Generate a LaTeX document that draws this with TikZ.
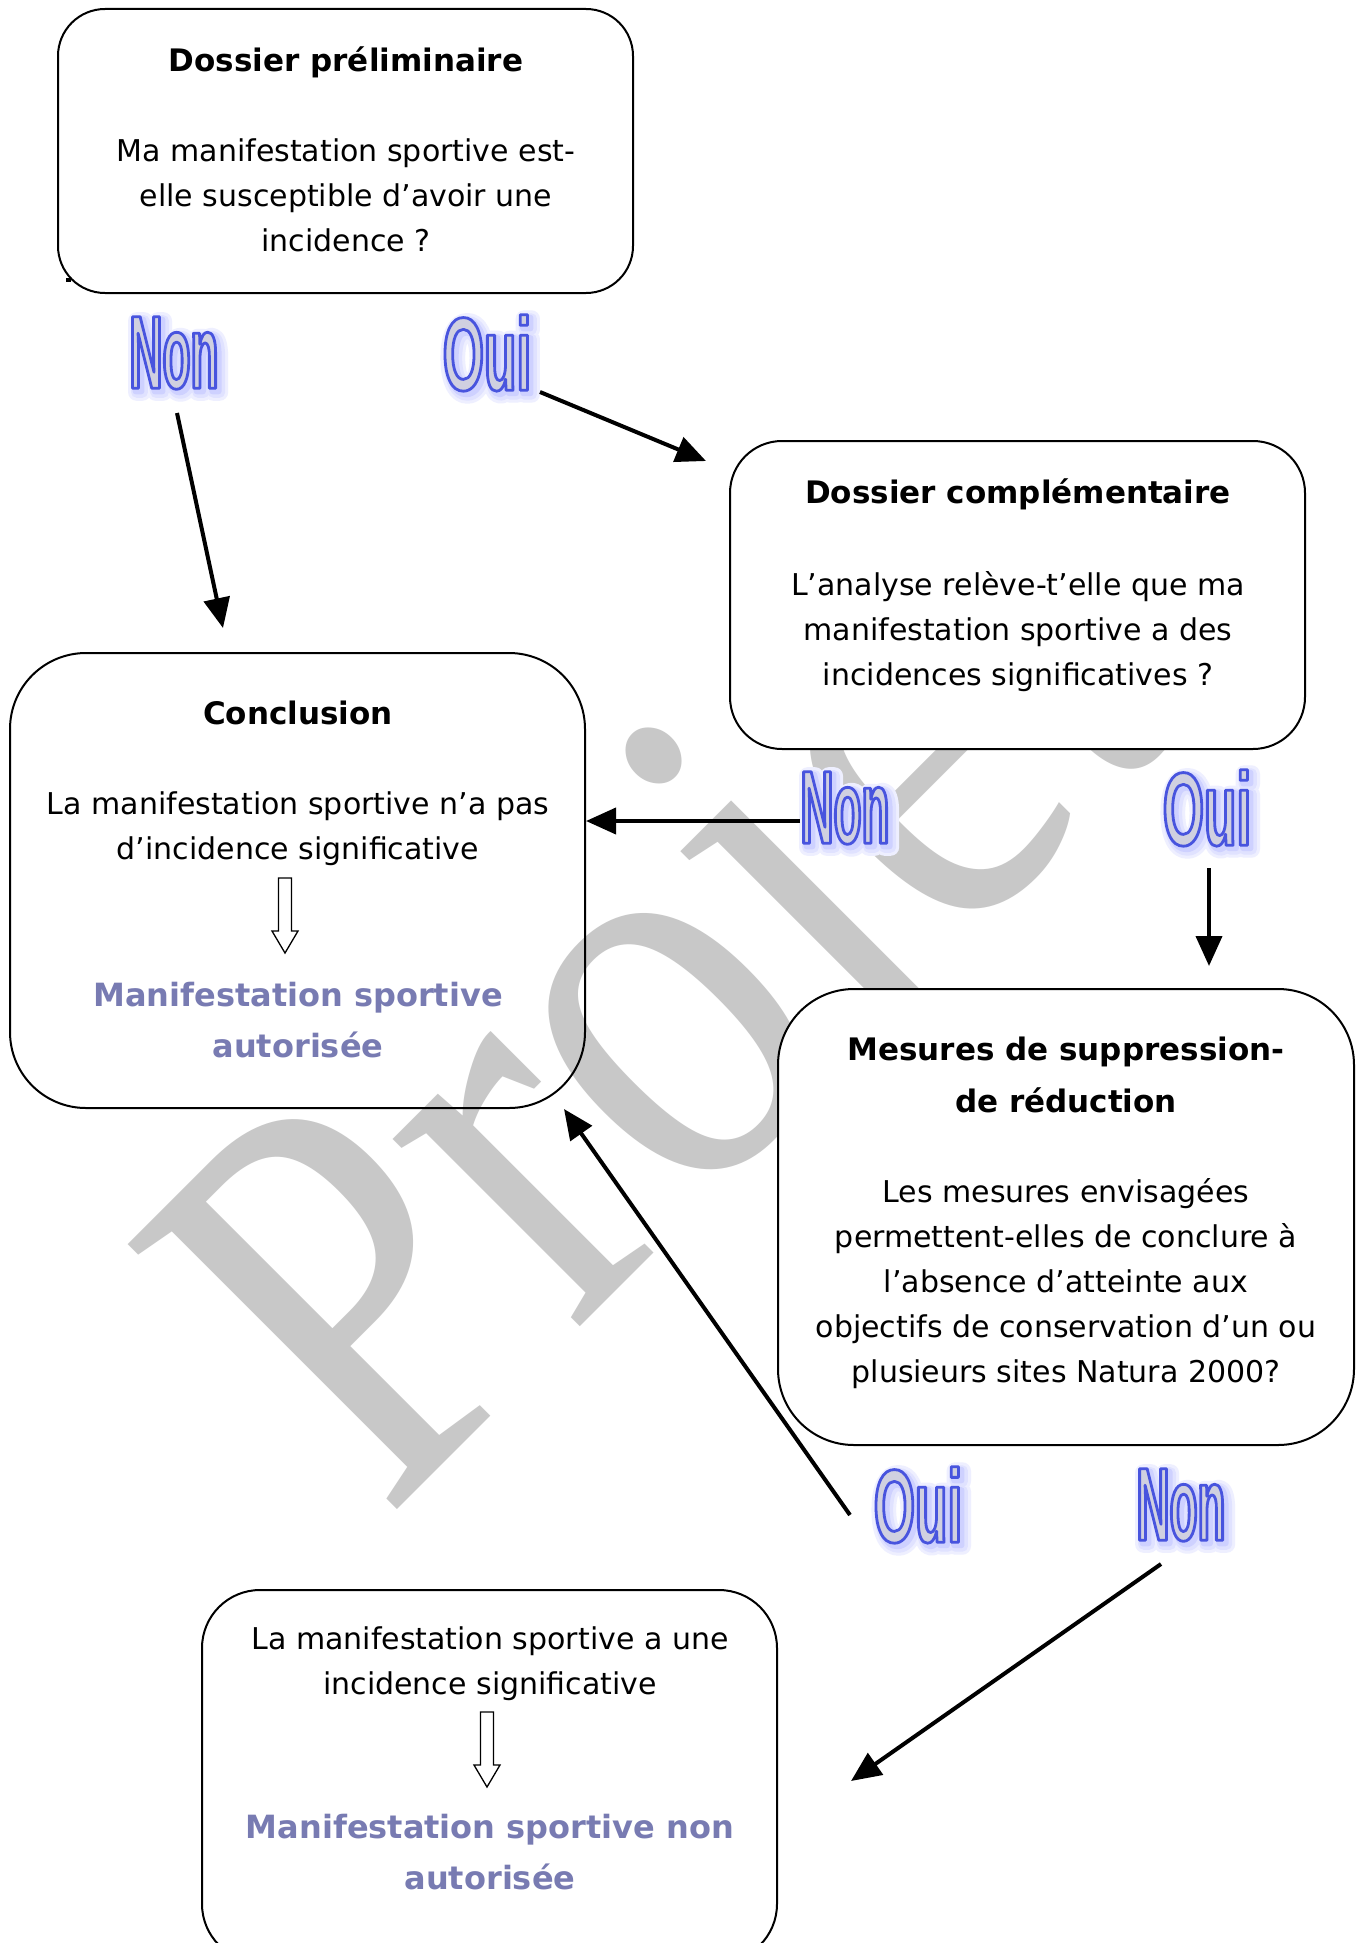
\documentclass[tikz,border=0pt]{standalone}
\usepackage{fontspec}
\setmainfont{DejaVu Sans}
\newfontfamily\nonfont[FakeStretch=0.44]{Liberation Sans}
\newfontfamily\ouifont[FakeStretch=0.51]{Liberation Sans}
\newfontfamily\wmfont{Liberation Serif}
\usepackage{graphicx}
\usetikzlibrary{arrows.meta}
\definecolor{purpletxt}{RGB}{120,123,178}
\definecolor{lblfill}{RGB}{208,208,224}
\definecolor{glowA}{RGB}{238,239,255}
\definecolor{glowB}{RGB}{224,226,255}
\definecolor{glowC}{RGB}{206,209,255}
\definecolor{wmgray}{RGB}{200,200,200}
\newcommand{\trOn}[2]{\special{pdf:literal direct 2 Tr #1 w 1 j #2 RG}}
\newcommand{\trOff}{\special{pdf:literal direct 0 Tr}}
\newcommand{\ynlabel}[2]{%
  \rlap{\kern4pt\raisebox{-4pt}{\color{glowA}\trOn{17}{0.933 0.937 1}#1\bfseries#2\trOff}}%
  \rlap{\kern4pt\raisebox{-4pt}{\color{glowB}\trOn{11}{0.878 0.886 1}#1\bfseries#2\trOff}}%
  \rlap{\kern3pt\raisebox{-3pt}{\color{glowC}\trOn{6}{0.808 0.820 1}#1\bfseries#2\trOff}}%
  {\color{lblfill}\trOn{2.8}{0.282 0.329 0.871}#1\bfseries#2\trOff}}
\begin{document}
\begin{tikzpicture}[x=1pt,y=-1pt,
  rbox/.style={draw, line width=2pt, rounded corners=#1, inner sep=0pt},
  body/.style={align=center, font=\fontsize{30}{45}\selectfont, inner sep=0pt},
  ttl/.style={align=center, font=\fontsize{31}{52}\selectfont\bfseries, inner sep=0pt},
  purp/.style={align=center, font=\fontsize{32}{51}\selectfont\bfseries, text=purpletxt, inner sep=0pt},
  yn/.style={inner sep=0pt, font=\fontsize{104}{104}\selectfont},
  conn/.style={line width=4pt, -{Triangle[length=30pt,width=26pt]}},
  hollow/.style={draw, line width=1.3pt, fill=white}]
\useasboundingbox (0,0) rectangle (1366,1943);
\fill[white] (0,0) rectangle (1366,1943);

% watermark
\node[rotate=45, anchor=base west, inner sep=0pt, text=wmgray,
      font=\wmfont\fontsize{577}{577}\selectfont] (wm) at (385,1522) {\scalebox{0.83}[1]{Projet}};

% boxes
\node[rbox=47, minimum width=575pt, minimum height=284pt] (b1) at (345.5,151) {};
\node[rbox=76, minimum width=575pt, minimum height=455pt] (b3) at (297.5,880.5) {};
\node[rbox=58, minimum width=575pt, minimum height=372pt] (b5) at (489.5,1776) {};
\node[rbox=52, fill=white, minimum width=575pt, minimum height=308pt] (b2) at (1017.5,595) {};
\node[rbox=76, fill=white, minimum width=576pt, minimum height=456pt] (b4) at (1066,1217) {};
\fill (66,278) rectangle (71,282);

% texts box 1
\node[ttl] (t1) at (346,61) {\strut Dossier préliminaire};
\node[body] (q1) at (346,197) {\strut Ma manifestation sportive est-\\elle susceptible d’avoir une\\incidence ?\strut};
% box 2
\node[ttl] (t2) at (1018,493) {\strut Dossier complémentaire};
\node[body] (q2) at (1018,631) {\strut L’analyse relève-t’elle que ma\\manifestation sportive a des\\incidences significatives ?\strut};
% box 3
\node[ttl] (t3) at (298,714) {\strut Conclusion};
\node[body] (q3) at (298,827.5) {\strut La manifestation sportive n’a pas\\d’incidence significative\strut};
\node[purp] (r3) at (298,1022) {\strut Manifestation sportive\\autorisée\strut};
\draw[hollow] (278.5,878) -- (291.5,878) -- (291.5,931) -- (298,931) -- (285,953) -- (272,931) -- (278.5,931) -- cycle;
% box 4
\node[ttl] (t4) at (1066,1076) {\strut Mesures de suppression-\\de réduction\strut};
\node[body] (q4) at (1066,1283) {\strut Les mesures envisagées\\permettent-elles de conclure à\\l’absence d’atteinte aux\\objectifs de conservation d’un ou\\plusieurs sites Natura 2000?\strut};
% box 5
\node[body] (q5) at (490,1663) {\strut La manifestation sportive a une\\incidence significative\strut};
\node[purp] (r5) at (490,1853.5) {\strut Manifestation sportive non\\autorisée\strut};
\draw[hollow] (480.5,1712) -- (493.5,1712) -- (493.5,1765) -- (500,1765) -- (487,1787) -- (474,1765) -- (480.5,1765) -- cycle;

% labels
\node[yn] (non1) at (174,355) {\ynlabel{\nonfont}{Non}};
\node[yn] (oui1) at (487,355) {\ynlabel{\ouifont}{Oui}};
\node[yn] (non2) at (845,810) {\ynlabel{\nonfont}{Non}};
\node[yn] (oui2) at (1207,810) {\ynlabel{\ouifont}{Oui}};
\node[yn] (oui3) at (918,1507) {\ynlabel{\ouifont}{Oui}};
\node[yn] (non3) at (1181,1507) {\ynlabel{\nonfont}{Non}};

% connectors
\coordinate (s1) at (177,413); \coordinate (e1) at (223,628);
\coordinate (s2) at (540,392); \coordinate (e2) at (706,461);
\coordinate (s3) at (800,821); \coordinate (e3) at (586,821);
\coordinate (s4) at (1209,868); \coordinate (e4) at (1209,966);
\coordinate (s5) at (850,1515); \coordinate (e5) at (564,1109);
\coordinate (s6) at (1161,1564); \coordinate (e6) at (851,1781);
\draw[conn] (s1) -- (e1);
\draw[conn] (s2) -- (e2);
\draw[conn] (s3) -- (e3);
\draw[conn] (s4) -- (e4);
\draw[conn] (s5) -- (e5);
\draw[conn] (s6) -- (e6);
\end{tikzpicture}
\end{document}
